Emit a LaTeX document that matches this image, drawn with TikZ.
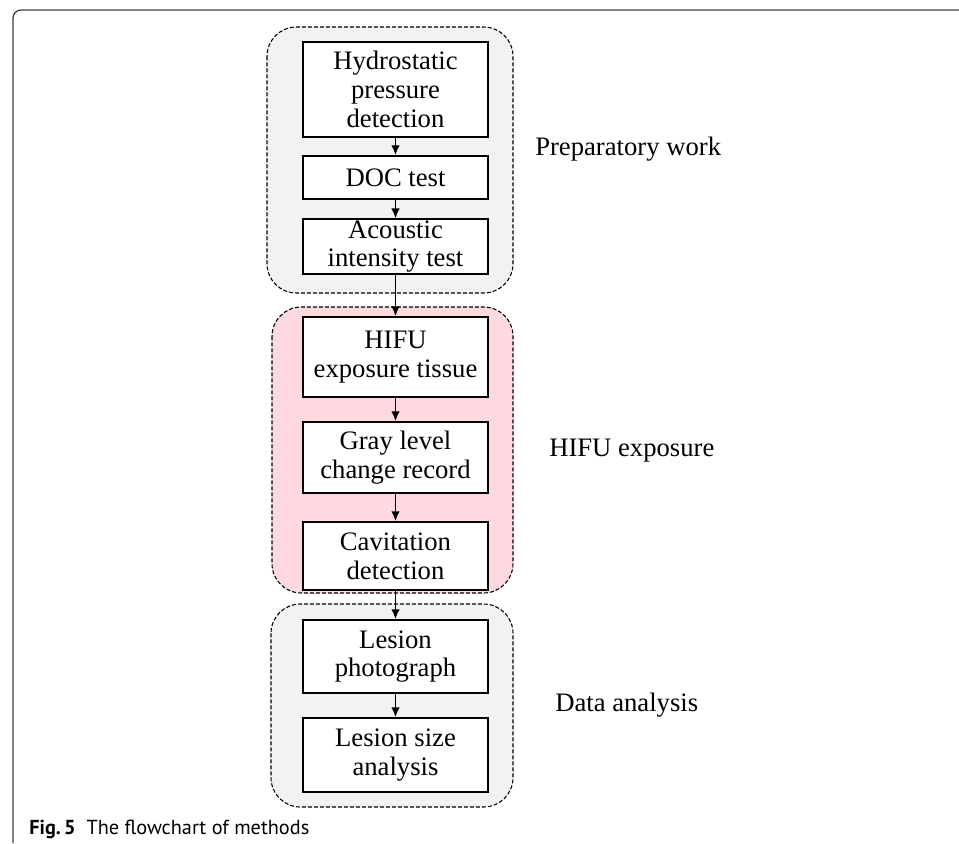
\documentclass[tikz,border=0pt]{standalone}
\usepackage{fontspec}
\usepackage{xcolor}
\usepackage{tikz}
\usetikzlibrary{arrows.meta}
\setmainfont{Liberation Serif}
\newfontfamily\capfont{PT Sans}
\definecolor{panelgray}{RGB}{242, 242, 242}
\definecolor{panelpink}{RGB}{255, 217, 224}

\tikzset{
  stepbox/.style={draw, fill=white, line width=1.1pt, minimum width=138.75pt, inner sep=1pt, align=center, font=\fontsize{20}{21.5}\selectfont},
  panel/.style={draw, dashed, dash pattern=on 3pt off 1.5pt, line width=0.8pt, rounded corners=22pt},
  flow/.style={line width=1.3pt, -{Latex[length=7.5pt,width=6.5pt]}},
  sidelabel/.style={anchor=base west, inner sep=0pt, font=\fontsize{20}{22}\selectfont}
}

\begin{document}
\begin{tikzpicture}[x=0.75pt,y=0.75pt,yscale=-1,xscale=1]
\useasboundingbox (0,0) rectangle (959,843);

%Frame
\draw [line width=1pt, color=black!75, rounded corners=6pt] (13,843) -- (13,10) -- (959,10);

%Panels
\draw [panel, fill=panelgray] (267,27) rectangle (513,293);
\draw [panel, fill=panelpink] (272,307) rectangle (513,593);
\draw [panel, fill=panelgray] (271,604) rectangle (513,807);

% Boxes
\node [stepbox, minimum height=71.25pt] (hydro) at (395.5,89.5) {Hydrostatic\\pressure\\detection};
\node [stepbox, minimum height=32.25pt] (doc) at (395.5,177.5) {DOC test};
\node [stepbox, minimum height=39.75pt] (acoustic) at (395.5,246.5) {Acoustic\\intensity test};
\node [stepbox, minimum height=60pt] (hifu) at (395.5,357) {HIFU\\exposure tissue};
\node [stepbox, minimum height=53.25pt] (gray) at (395.5,457.5) {Gray level\\change record};
\node [stepbox, minimum height=51pt] (cavit) at (395.5,556) {Cavitation\\detection};
\node [stepbox, minimum height=54.75pt] (photo) at (395.5,656.5) {Lesion\\photograph};
\node [stepbox, minimum height=55.5pt] (size) at (395.5,755) {Lesion size\\analysis};

% Arrows
\draw [flow] (hydro) -- (doc);
\draw [flow] (doc) -- (acoustic);
\draw [flow] (acoustic) -- (hifu);
\draw [flow] (hifu) -- (gray);
\draw [flow] (gray) -- (cavit);
\draw [flow] (cavit) -- (photo);
\draw [flow] (photo) -- (size);

% Text Node
\node [sidelabel] (prep) at (535,155) {Preparatory work};
% Text Node
\node [sidelabel] (expo) at (549,456) {HIFU exposure};
% Text Node
\node [sidelabel] (data) at (555,711) {Data analysis};
% Text Node
\node [anchor=base west, inner sep=0pt, font=\capfont\fontsize{15.2}{17}\selectfont] (caption) at (29,834) {\textbf{Fig.\,5}\ \ The flowchart of methods};

\end{tikzpicture}
\end{document}
